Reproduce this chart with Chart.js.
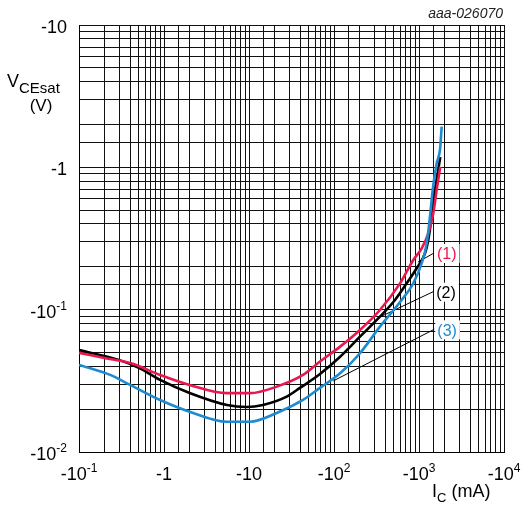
<!DOCTYPE html>
<html><head><meta charset="utf-8">
<script src="https://cdn.jsdelivr.net/npm/chart.js@4"></script>
<style>html,body{margin:0;padding:0;background:#fff}#wrap{width:525px;height:509px}</style>
</head><body><div id="wrap"><canvas id="c" width="525" height="509"></canvas></div>
<script>
// ---- data (Ic in mA, magnitudes; VCEsat in V, magnitudes) ----
const curve1Ic = [0.1, 0.2, 0.4, 0.9, 2.0, 5.5, 10.3, 21.2, 43.2, 68.4, 118, 202, 347, 598, 857, 1076, 1286, 1473, 1614, 1780];
const curve1V  = [0.0497, 0.0458, 0.0422, 0.0348, 0.0296, 0.0259, 0.0259, 0.0288, 0.0348, 0.0432, 0.055, 0.072, 0.0995, 0.153, 0.2235, 0.27, 0.344, 0.476, 0.694, 1.01];

const curve2Ic = [0.1, 0.3, 0.52, 0.9, 2.0, 5.5, 9.4, 14.6, 27.8, 39.8, 68.4, 118, 202, 347, 522, 717, 939, 1177, 1286, 1410, 1542, 1733, 1780];
const curve2V  = [0.052, 0.0442, 0.0387, 0.0321, 0.026, 0.0214, 0.0207, 0.0214, 0.0245, 0.0282, 0.0353, 0.0467, 0.0646, 0.0893, 0.117, 0.1533, 0.1954, 0.249, 0.309, 0.45, 0.694, 1.07, 1.18];

const curve3Ic = [0.1, 0.232, 0.4, 0.9, 2.0, 5.5, 10.3, 21.2, 43.2, 68.4, 118, 202, 347, 625, 857, 1076, 1233, 1346, 1449, 1614, 1766, 1849];
const curve3V  = [0.0409, 0.0348, 0.0296, 0.0232, 0.0192, 0.01633, 0.01633, 0.0188, 0.0232, 0.0282, 0.0357, 0.0494, 0.076, 0.117, 0.1533, 0.212, 0.293, 0.45, 0.694, 1.069, 1.33, 1.93];

const curveNames = ['(1)', '(2)', '(3)'];
// label leader lines: [label end, curve end]
const leader1Ic = [1500, 973];  const leader1V = [0.250, 0.216];
const leader2Ic = [1472, 367];  const leader2V = [0.1338, 0.0903];
const leader3Ic = [1514, 98.2]; const leader3V = [0.0728, 0.0316];

const xTickValues = [0.1, 1, 10, 100, 1000, 10000];
const xTickBase   = ['-10', '-1', '-10', '-10', '-10', '-10'];
const xTickSup    = ['-1', '', '', '2', '3', '4'];
const yTickValues = [0.01, 0.1, 1, 10];
const yTickBase   = ['-10', '-10', '-1', '-10'];
const yTickSup    = ['-2', '-1', '', ''];

const RED = '#e8184f', BLACK = '#000000', BLUE = '#1d8ad2';
const FONT = '"Liberation Sans", Arial, Helvetica, sans-serif';

function pts(xs, ys) { return xs.map((x, i) => ({x: x, y: ys[i]})); }

function drawSup(ctx, base, sup, x, y, align, size, supSize) {
  ctx.font = size + 'px ' + FONT;
  const wb = ctx.measureText(base).width;
  ctx.font = supSize + 'px ' + FONT;
  const ws = sup ? ctx.measureText(sup).width : 0;
  const total = wb + ws;
  let sx = x;
  if (align === 'center') sx = x - total / 2;
  else if (align === 'right') sx = x - total;
  ctx.textAlign = 'left';
  ctx.textBaseline = 'alphabetic';
  ctx.font = size + 'px ' + FONT;
  ctx.fillText(base, sx, y);
  if (sup) {
    ctx.font = supSize + 'px ' + FONT;
    ctx.fillText(sup, sx + wb, y - 8);
  }
}

const textPlugin = {
  id: 'texts',
  afterDatasetsDraw(chart) {
    const ctx = chart.ctx;
    const xs = chart.scales.x, ys = chart.scales.y;
    ctx.save();
    const leaders = [[leader1Ic, leader1V, RED], [leader2Ic, leader2V, BLACK], [leader3Ic, leader3V, BLUE]];
    leaders.forEach((l, i) => {
      const px = xs.getPixelForValue(l[0][0]);
      const py = ys.getPixelForValue(l[1][0]);
      ctx.font = '16px ' + FONT;
      const w = ctx.measureText(curveNames[i]).width;
      ctx.fillStyle = '#fff';
      ctx.fillRect(px + 1, py - 9, w + 5, 19);
      ctx.fillStyle = l[2];
      ctx.textAlign = 'left';
      ctx.textBaseline = 'middle';
      ctx.fillText(curveNames[i], px + 3, py + 2);
    });
    ctx.restore();
  },
  afterDraw(chart) {
    const ctx = chart.ctx;
    const xs = chart.scales.x, ys = chart.scales.y;
    ctx.save();
    ctx.fillStyle = '#000';
    xTickValues.forEach((v, i) => {
      drawSup(ctx, xTickBase[i], xTickSup[i], xs.getPixelForValue(v), 480, 'center', 18, 12);
    });
    yTickValues.forEach((v, i) => {
      drawSup(ctx, yTickBase[i], yTickSup[i], 67, ys.getPixelForValue(v) + 8, 'right', 18, 12);
    });
    // y title
    ctx.textAlign = 'left'; ctx.textBaseline = 'alphabetic';
    ctx.font = '18px ' + FONT;
    ctx.fillText('V', 7, 87);
    const wV = ctx.measureText('V').width;
    ctx.font = '15px ' + FONT;
    ctx.fillText('CEsat', 7 + wV, 93);
    ctx.font = '17px ' + FONT;
    ctx.textAlign = 'center';
    ctx.fillText('(V)', 41, 111);
    // x title
    ctx.textAlign = 'left';
    ctx.font = '18px ' + FONT;
    ctx.fillText('I', 432, 497);
    const wI = ctx.measureText('I').width;
    ctx.font = '13px ' + FONT;
    ctx.fillText('C', 432 + wI, 502);
    const wC = ctx.measureText('C').width;
    ctx.font = '18px ' + FONT;
    ctx.fillText(' (mA)', 432 + wI + wC, 497);
    // id
    ctx.font = 'italic 14px ' + FONT;
    ctx.fillStyle = '#222';
    ctx.textAlign = 'right';
    ctx.fillText('aaa-026070', 503, 18);
    ctx.restore();
  }
};

const curveStyle = (c) => ({borderColor: c, backgroundColor: c, borderWidth: 2.6, pointRadius: 0, fill: false, cubicInterpolationMode: 'monotone'});
const leaderStyle = {borderColor: '#000', borderWidth: 1, pointRadius: 0, fill: false, tension: 0};

new Chart(document.getElementById('c'), {
  type: 'line',
  data: {
    datasets: [
      Object.assign({label: '(3)', data: pts(curve3Ic, curve3V)}, curveStyle(BLUE)),
      Object.assign({label: '(1)', data: pts(curve1Ic, curve1V)}, curveStyle(RED)),
      Object.assign({label: '(2)', data: pts(curve2Ic, curve2V)}, curveStyle(BLACK)),
      Object.assign({label: 'l1', data: pts(leader1Ic, leader1V)}, leaderStyle),
      Object.assign({label: 'l2', data: pts(leader2Ic, leader2V)}, leaderStyle),
      Object.assign({label: 'l3', data: pts(leader3Ic, leader3V)}, leaderStyle)
    ]
  },
  options: {
    responsive: false,
    animation: false,
    devicePixelRatio: 1,
    layout: {padding: {left: 79, right: 21, top: 25, bottom: 57}},
    plugins: {legend: {display: false}, tooltip: {enabled: false}},
    scales: {
      x: {
        type: 'logarithmic', min: 0.1, max: 10000, position: 'bottom',
        ticks: {display: false, autoSkip: false},
        grid: {color: '#111', lineWidth: 1, drawTicks: false},
        border: {display: true, color: '#000', width: 1},
        afterFit(s) { s.height = 0; }
      },
      y: {
        type: 'logarithmic', min: 0.01, max: 10, position: 'left',
        ticks: {display: false, autoSkip: false},
        grid: {color: '#111', lineWidth: 1, drawTicks: false},
        border: {display: true, color: '#000', width: 1},
        afterFit(s) { s.width = 0; }
      }
    }
  },
  plugins: [textPlugin]
});
</script>
</body></html>
